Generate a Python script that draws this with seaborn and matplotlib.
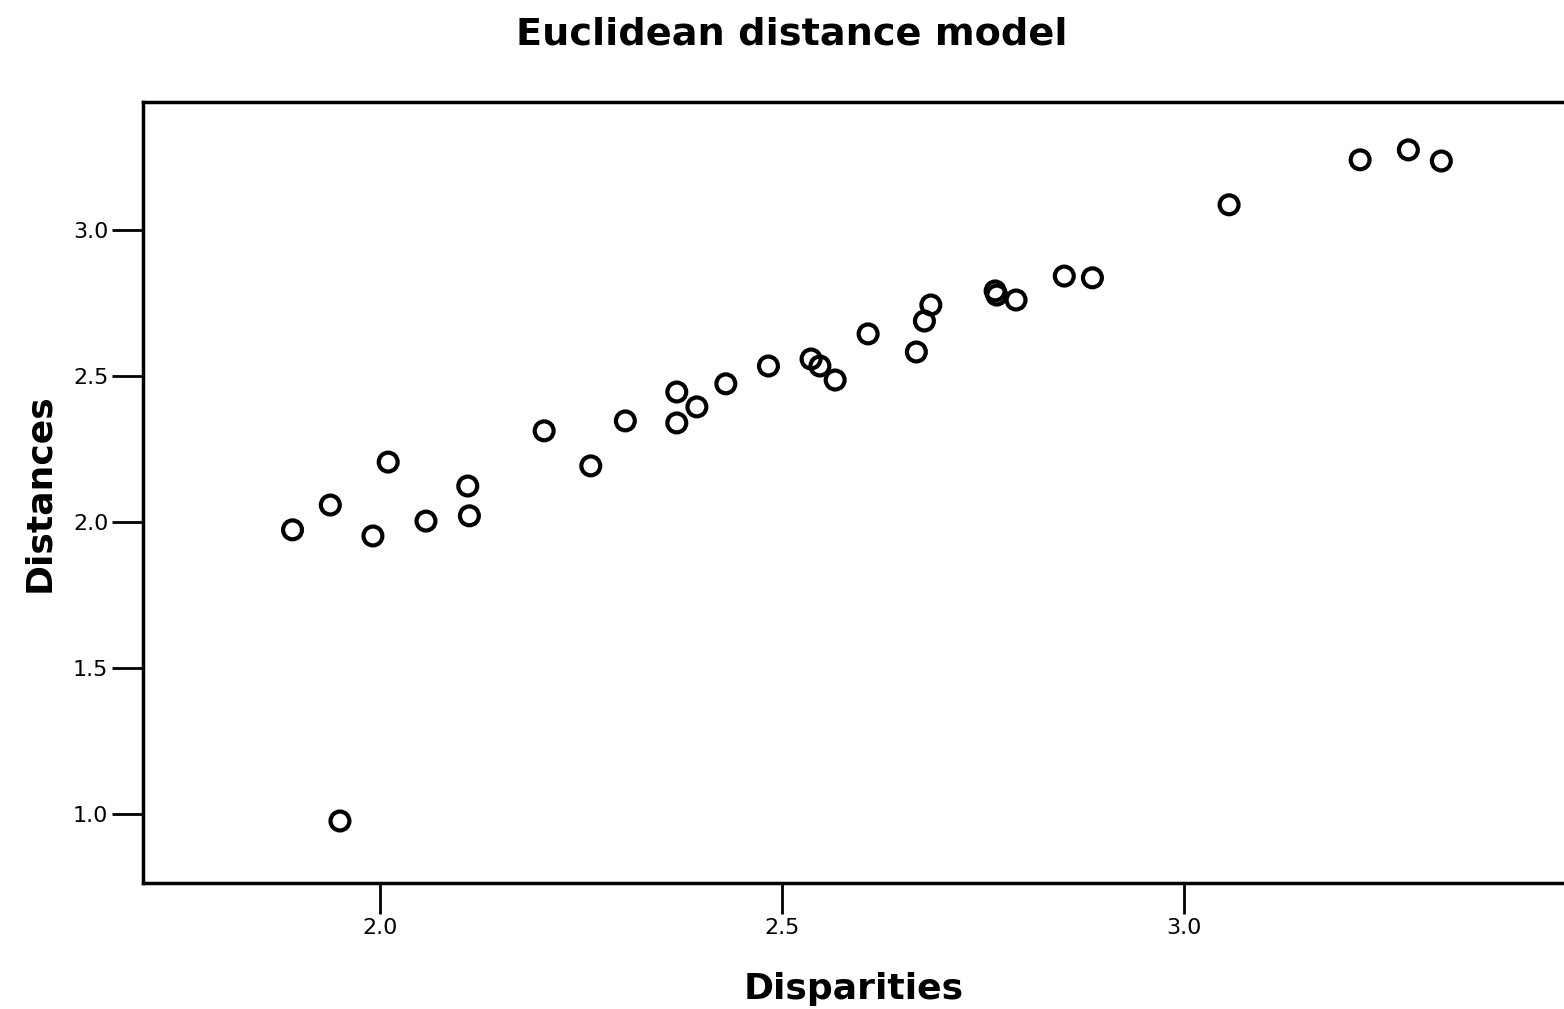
import matplotlib.pyplot as plt
import pandas as pd
import seaborn as sns

# Values
disparities = [1.891, 1.938, 1.991, 2.010, 2.057, 2.109, 2.111, 2.204, 2.262,
               2.305, 2.369, 2.369, 2.394, 2.430, 2.483, 2.536, 2.547, 2.566,
               2.607, 2.667, 2.677, 2.685, 2.765, 2.767, 2.791, 2.851, 2.886,
               3.056, 3.219, 3.279, 3.320, 1.950]
distances = [1.973, 2.058, 1.952, 2.205, 2.003, 2.123, 2.021, 2.312, 2.192,
             2.346, 2.445, 2.339, 2.394, 2.473, 2.534, 2.558, 2.534, 2.486,
             2.644, 2.582, 2.688, 2.743, 2.791, 2.777, 2.760, 2.842, 2.836,
             3.086, 3.240, 3.274, 3.236, 0.976]
x_ticks = [2.0, 2.5, 3.0]
y_ticks = [1.0, 1.5, 2.0, 2.5, 3.0]

df = pd.DataFrame({'Disparities': disparities, 'Distances': distances})

sns.set_style('white')
plt.rcParams['font.family'] = ['DejaVu Sans']
plt.rcParams['text.color'] = 'black'
plt.rcParams['axes.labelcolor'] = 'black'
plt.rcParams['xtick.color'] = 'black'
plt.rcParams['ytick.color'] = 'black'

fig = plt.figure(figsize=(15.64, 10.09), dpi=100)
ax = fig.add_axes([143 / 1564, 126 / 1009, 1 - 143 / 1564, 781 / 1009])

sns.scatterplot(x='Disparities', y='Distances', data=df, ax=ax,
                marker='o', s=185, facecolors='none', edgecolor='black',
                linewidth=3)

ax.set_xlim(1.705, 3.4726)
ax.set_ylim(0.7637, 3.438)
ax.set_xticks(x_ticks)
ax.set_xticklabels([f'{v:.1f}' for v in x_ticks])
ax.set_yticks(y_ticks)
ax.set_yticklabels([f'{v:.1f}' for v in y_ticks])
ax.tick_params(axis='both', direction='out', length=22, width=2,
               color='black', labelsize=16, bottom=True, left=True)
ax.tick_params(axis='x', pad=3)
ax.tick_params(axis='y', pad=3)

for side in ['left', 'bottom', 'top']:
    ax.spines[side].set_color('black')
    ax.spines[side].set_linewidth(2.5)
ax.spines['right'].set_visible(False)

ax.set_xlabel('Disparities', fontsize=26, fontweight='bold', labelpad=25)
ax.set_ylabel('Distances', fontsize=26, fontweight='bold', labelpad=12)
fig.suptitle('Euclidean distance model', x=0.506, y=0.984, fontsize=27.5,
             fontweight='bold')

fig.savefig('out.png', dpi=100)
